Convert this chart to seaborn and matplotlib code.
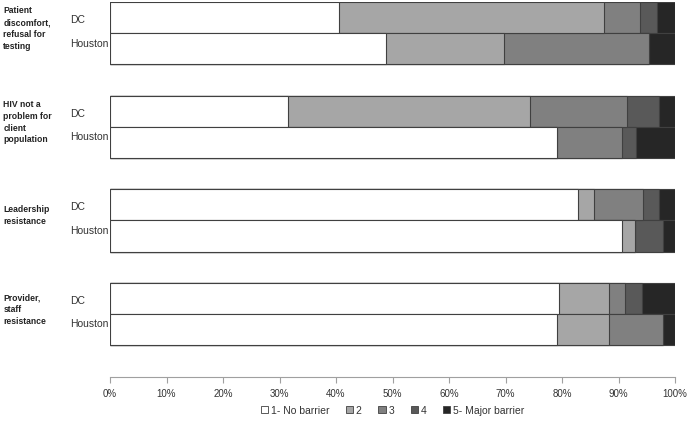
import numpy as np
import pandas as pd
import matplotlib
matplotlib.use("Agg")
import matplotlib.pyplot as plt
from matplotlib.patches import Patch
import seaborn as sns

barriers = ["Patient\ndiscomfort,\nrefusal for\ntesting",
            "HIV not a\nproblem for\nclient\npopulation",
            "Leadership\nresistance",
            "Provider,\nstaff\nresistance"]
sites = ["DC", "Houston"]
levels = ["1- No barrier", "2", "3", "4", "5- Major barrier"]

# percent of respondents per level (1..5)
patient_dc = [40.6, 46.8, 6.4, 3.0, 3.2]
patient_hou = [48.8, 20.9, 25.7, 0.0, 4.6]
hiv_dc = [31.5, 42.8, 17.2, 5.7, 2.8]
hiv_hou = [79.1, 0.0, 11.5, 2.5, 6.9]
leader_dc = [82.9, 2.8, 8.6, 2.9, 2.8]
leader_hou = [90.7, 2.3, 0.0, 4.8, 2.2]
provider_dc = [79.5, 8.8, 2.9, 3.0, 5.8]
provider_hou = [79.1, 9.2, 9.5, 0.0, 2.2]

colors = ["#ffffff", "#a6a6a6", "#808080", "#595959", "#262626"]
edge = "#404040"

values = [[patient_dc, patient_hou], [hiv_dc, hiv_hou],
          [leader_dc, leader_hou], [provider_dc, provider_hou]]

rows = []
order = []
for g, b in enumerate(barriers):
    for s, site in enumerate(sites):
        key = f"{g}_{site}"
        order.append(key)
        cum = np.cumsum(values[g][s])
        for k, lev in enumerate(levels):
            rows.append({"row": key, "level": lev, "cum": cum[k]})
    if g < len(barriers) - 1:
        order.append(f"gap{g}")
df = pd.DataFrame(rows)

plt.rcParams["font.family"] = ["Liberation Sans", "DejaVu Sans"]
fig = plt.figure(figsize=(6.89, 4.27), dpi=100)
ax = fig.add_axes([110 / 689, 1 - 378 / 427, 565 / 689, 375 / 427])

# stacked bars: draw cumulative totals from the largest down
for k in range(len(levels) - 1, -1, -1):
    sns.barplot(data=df[df.level == levels[k]], x="cum", y="row", order=order,
                orient="h", color=colors[k], saturation=1, width=1.0,
                edgecolor=edge, linewidth=0.8, errorbar=None, ax=ax)

ax.set_xlim(0, 100)
ax.set_ylim(11.52, -0.5)
ax.set_xticks(np.arange(0, 101, 10))
ax.set_xticklabels([f"{t}%" for t in range(0, 101, 10)], fontsize=7, color="#333333")
ax.set_yticks([])
ax.set_xlabel("")
ax.set_ylabel("")
for sp in ["top", "right", "left"]:
    ax.spines[sp].set_visible(False)
ax.spines["bottom"].set_color("#a0a0a0")
ax.spines["bottom"].set_linewidth(0.8)
ax.tick_params(axis="x", length=4, color="#a0a0a0", width=0.8, pad=4)

tr = ax.get_yaxis_transform()
for g, b in enumerate(barriers):
    pos = g * 3
    ax.text(-0.071, pos + 0.05, "DC", transform=tr, ha="left", va="center",
            fontsize=7.5, color="#333333")
    ax.text(-0.071, pos + 0.8, "Houston", transform=tr, ha="left", va="center",
            fontsize=7.5, color="#333333")
    ax.text(-0.189, pos + 0.32, b, transform=tr, ha="left", va="center",
            fontsize=6.2, fontweight="bold", color="#222222", linespacing=1.4)

handles = [Patch(facecolor=c, edgecolor=edge, linewidth=0.6) for c in colors]
ax.legend(handles, levels, loc="center", bbox_to_anchor=(0.5, -0.088),
          ncol=5, frameon=False, fontsize=7.5, handlelength=0.7, handleheight=0.7,
          handletextpad=0.25, columnspacing=1.6, labelcolor="#333333")

fig.savefig("out.png", dpi=100)
